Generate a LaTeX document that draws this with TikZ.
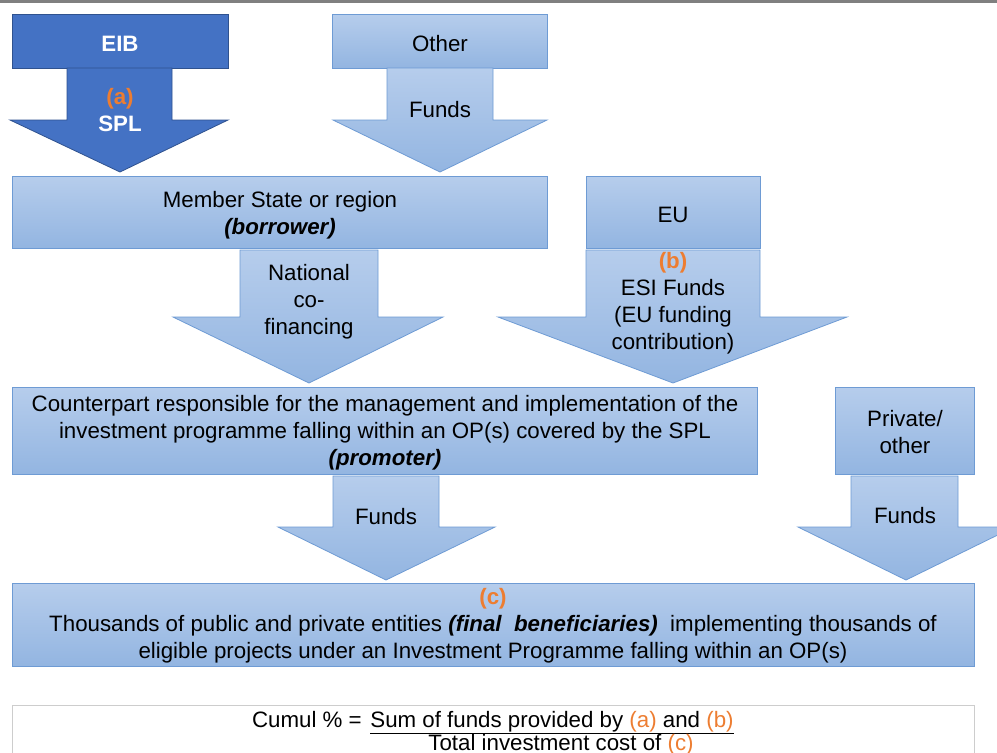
\documentclass[tikz,border=0pt]{standalone}
\usepackage{fontspec}
\setmainfont{Liberation Sans}
\definecolor{eibblue}{HTML}{4472C4}
\definecolor{eibborder}{HTML}{2F528F}
\definecolor{lighttop}{RGB}{182,205,236}
\definecolor{lightbot}{RGB}{147,181,225}
\definecolor{lightborder}{RGB}{110,155,212}
\definecolor{accorange}{HTML}{ED7D31}
\definecolor{topline}{RGB}{128,128,128}
\definecolor{fboxgray}{RGB}{205,205,205}
\tikzset{
  darkshape/.style={fill=eibblue, draw=eibborder, line width=0.8pt},
  lightshape/.style={top color=lighttop, bottom color=lightbot, draw=lightborder, line width=0.8pt},
  lbl/.style={align=center, font=\fontsize{22.3}{27}\selectfont, inner sep=0pt, text=black, yshift=-2pt},
  wlbl/.style={lbl, text=white, font=\fontsize{22.3}{27}\selectfont\bfseries},
}
\newcommand{\orng}[1]{\textcolor{accorange}{#1}}
\newcommand{\bi}[1]{\textbf{\textit{#1}}}
\begin{document}
\begin{tikzpicture}[x=1pt,y=-1pt]
\path[use as bounding box] (0,0) rectangle (997,753);
\begin{scope}
\clip (0,0) rectangle (997,753);
\fill[white] (0,0) rectangle (997,753);
% top line
\fill[topline] (0,0) rectangle (997,2.5);

% EIB
\path[darkshape] (12,14) rectangle (228,68);
\node[wlbl] (eib) at (120,42) {EIB};
\path[darkshape] (67,68) -- (172,68) -- (172,120) -- (228,120) -- (120,172) -- (10,120) -- (67,120) -- cycle;
\node[wlbl] (spl) at (120,108) {\orng{(a)}\\SPL};

% Other
\path[lightshape] (332,14) rectangle (547,68);
\node[lbl] (other) at (440,42) {Other};
\path[lightshape] (387,68) -- (493,68) -- (493,120) -- (547,120) -- (440,172) -- (333,120) -- (387,120) -- cycle;
\node[lbl] (otherfunds) at (440,108) {Funds};

% Member state
\path[lightshape] (12,176) rectangle (547,248);
\node[lbl] (ms) at (280,213) {Member State or region\\\bi{(borrower)}};

% EU
\path[lightshape] (586,176) rectangle (760,248);
\node[lbl] (eu) at (673,213) {EU};

% National co-financing arrow
\path[lightshape] (240,250) -- (378,250) -- (378,317) -- (443,317) -- (309,383) -- (173,317) -- (240,317) -- cycle;
\node[lbl] (ncf) at (309,300) {National\\co-\\financing};

% ESI arrow
\path[lightshape] (586,250) -- (760,250) -- (760,317) -- (847,317) -- (673,383) -- (498,317) -- (586,317) -- cycle;
\node[lbl] (esi) at (673,301) {\textbf{\orng{(b)}}\\ESI Funds\\(EU funding\\contribution)};

% Counterpart
\path[lightshape] (12,387) rectangle (757,474);
\node[lbl] (cp) at (385,431) {Counterpart responsible for the management and implementation of the\\investment programme falling within an OP(s) covered by the SPL\\\bi{(promoter)}};

% Private/other
\path[lightshape] (835,387) rectangle (974,474);
\node[lbl] (priv) at (905,430) {Private/\\other};

% Funds arrows
\path[lightshape] (333,476) -- (439,476) -- (439,527) -- (495,527) -- (386,580) -- (278,527) -- (333,527) -- cycle;
\node[lbl] (funds1) at (386,515) {Funds};
\path[lightshape] (851,476) -- (958,476) -- (958,527) -- (1014,527) -- (906,580) -- (798,527) -- (851,527) -- cycle;
\node[lbl] (funds2) at (905,514) {Funds};

% Beneficiaries
\path[lightshape] (12,583) rectangle (974,666);
\node[lbl] (ben) at (493,624) {\textbf{\orng{(c)}}\\Thousands of public and private entities \bi{(final\ \ beneficiaries)}\ \ implementing thousands of\\eligible projects under an Investment Programme falling within an OP(s)};

% Formula
\path[fill=white, draw=fboxgray, line width=0.8pt] (12,705) rectangle (974,770);
\node[lbl, anchor=base east, yshift=0pt] (cumul) at (362,725) {Cumul \% =};
\node[lbl, anchor=base, yshift=0pt] (num) at (552,725) {\underline{Sum of funds provided by \orng{(a)} and \orng{(b)}}};
\node[lbl, anchor=base, yshift=0pt] (den) at (561,748) {Total investment cost of \orng{(c)}};
\end{scope}
\end{tikzpicture}
\end{document}
